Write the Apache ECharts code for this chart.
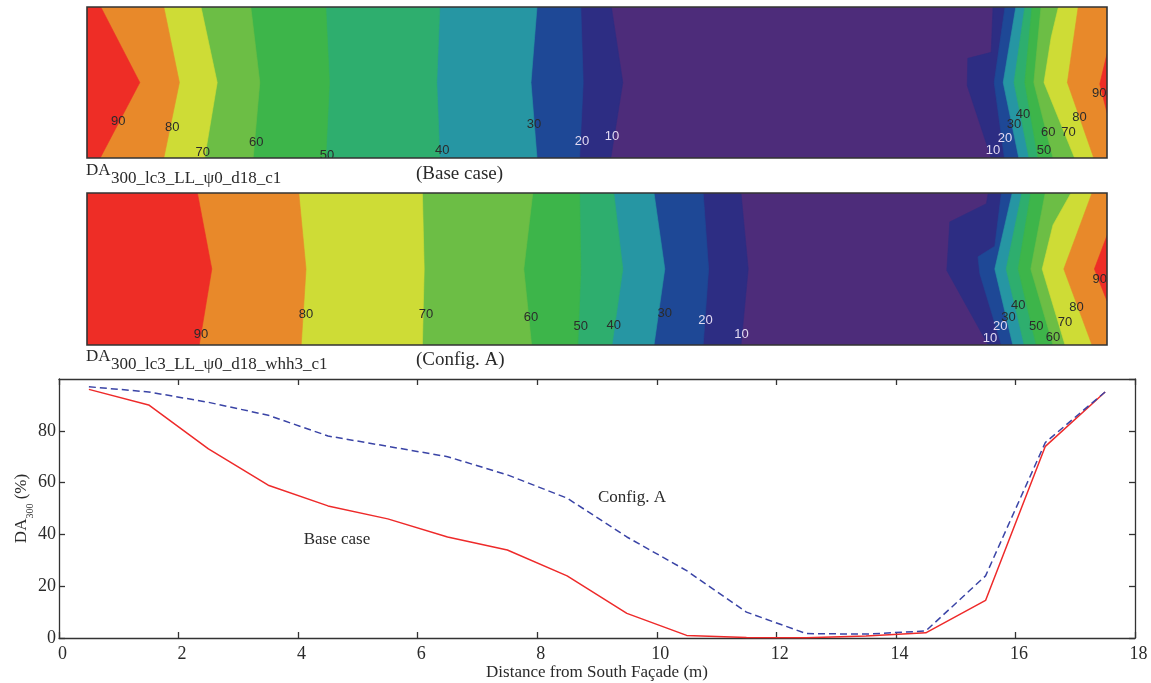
<!DOCTYPE html>
<html>
<head>
<meta charset="utf-8">
<script src="https://cdn.jsdelivr.net/npm/echarts@6/dist/echarts.min.js"></script>
<style>
  html, body { margin: 0; padding: 0; background: #fff; }
  #chart { width: 1151px; height: 683px; }
</style>
</head>
<body>
<div id="chart"></div>
<script>
// DA300 along the mid line of the room, one value per sensor (m from south facade)
var distance = [0.5, 1.5, 2.5, 3.5, 4.5, 5.5, 6.5, 7.5, 8.5, 9.5, 10.5, 11.5, 12.5, 13.5, 14.5, 15.5, 16.5, 17.5];
var baseCase = [96, 90, 73, 59, 51, 46, 39, 34, 24, 9.5, 1, 0.2, 0.1, 0.8, 2, 14.5, 74, 95];
var configA = [97, 95, 91, 86, 78, 74, 70, 63, 54, 39, 26, 10, 1.7, 1.5, 2.7, 24, 75.5, 95];

var xStep = 2;
var yStep = 20;

// contour maps: level lines as [distance (m), depth across room 0 = top .. 1 = bottom]
var levels = [10, 20, 30, 40, 50, 60, 70, 80, 90];
var bandColors = ['#4D2C7A', '#2D2D83', '#1E4896', '#2696A3', '#2EAE6E', '#3DB54A', '#6CBE45', '#CEDC36', '#E8892A', '#EE2D26'];

var baseSouth = [
  [[9.24, 0], [9.43, 0.5], [9.23, 1]],
  [[8.73, 0], [8.77, 0.5], [8.71, 1]],
  [[8.00, 0], [7.90, 0.5], [8.00, 1]],
  [[6.38, 0], [6.33, 0.5], [6.38, 1]],
  [[4.48, 0], [4.54, 0.5], [4.48, 1]],
  [[3.23, 0], [3.38, 0.5], [3.27, 1]],
  [[2.40, 0], [2.67, 0.5], [2.46, 1]],
  [[1.78, 0], [2.04, 0.5], [1.78, 1]],
  [[0.73, 0], [1.38, 0.5], [0.72, 1]]
];
var baseNorth = [
  [[15.60, 0], [15.57, 0.30], [15.18, 0.34], [15.17, 0.52], [15.57, 1]],
  [[15.80, 0], [15.62, 0.5], [15.79, 1]],
  [[15.98, 0], [15.77, 0.5], [16.03, 1]],
  [[16.13, 0], [15.95, 0.5], [16.20, 1]],
  [[16.25, 0], [16.13, 0.5], [16.35, 1]],
  [[16.40, 0], [16.28, 0.5], [16.60, 1]],
  [[16.69, 0], [16.57, 0.2], [16.45, 0.5], [16.96, 1]],
  [[17.02, 0], [16.84, 0.5], [17.28, 1]],
  [[17.5, 0.31], [17.38, 0.51], [17.5, 0.70]]
];
var configSouth = [
  [[11.40, 0], [11.52, 0.5], [11.40, 1]],
  [[10.77, 0], [10.86, 0.5], [10.77, 1]],
  [[9.95, 0], [10.13, 0.5], [9.95, 1]],
  [[9.28, 0], [9.43, 0.5], [9.25, 1]],
  [[8.71, 0], [8.73, 0.5], [8.68, 1]],
  [[7.93, 0], [7.78, 0.5], [7.91, 1]],
  [[6.09, 0], [6.12, 0.5], [6.09, 1]],
  [[4.03, 0], [4.15, 0.5], [4.07, 1]],
  [[2.34, 0], [2.58, 0.5], [2.37, 1]]
];
var configNorth = [
  [[15.52, 0], [15.49, 0.07], [14.88, 0.19], [14.83, 0.51], [15.52, 1]],
  [[15.74, 0], [15.63, 0.35], [15.35, 0.42], [15.38, 0.53], [15.74, 1]],
  [[15.92, 0], [15.63, 0.5], [15.93, 1]],
  [[16.08, 0], [15.82, 0.5], [16.12, 1]],
  [[16.23, 0], [16.02, 0.5], [16.32, 1]],
  [[16.47, 0], [16.23, 0.5], [16.60, 1]],
  [[16.90, 0], [16.60, 0.21], [16.42, 0.5], [16.80, 1]],
  [[17.25, 0], [16.78, 0.5], [17.25, 1]],
  [[17.5, 0.28], [17.29, 0.5], [17.5, 0.71]]
];

// contour labels [distance, depth, text]
var baseTags = [
  [1.02, 0.755, '90'], [1.92, 0.80, '80'], [2.43, 0.96, '70'], [3.32, 0.90, '60'], [4.50, 0.98, '50'],
  [6.42, 0.95, '40'], [7.95, 0.78, '30'], [8.75, 0.89, '20'], [9.25, 0.86, '10'],
  [15.60, 0.95, '10'], [15.80, 0.87, '20'], [15.95, 0.78, '30'], [16.10, 0.71, '40'], [16.45, 0.95, '50'],
  [16.52, 0.83, '60'], [16.86, 0.83, '70'], [17.04, 0.73, '80'], [17.37, 0.57, '90']
];
var configTags = [
  [2.40, 0.93, '90'], [4.15, 0.80, '80'], [6.15, 0.80, '70'], [7.90, 0.82, '60'], [8.73, 0.88, '50'],
  [9.28, 0.87, '40'], [10.13, 0.79, '30'], [10.81, 0.84, '20'], [11.41, 0.93, '10'],
  [15.55, 0.96, '10'], [15.72, 0.88, '20'], [15.86, 0.82, '30'], [16.02, 0.74, '40'], [16.32, 0.88, '50'],
  [16.60, 0.95, '60'], [16.80, 0.85, '70'], [16.99, 0.75, '80'], [17.38, 0.57, '90']
];

var serif = '"Liberation Serif", "Times New Roman", serif';
var ink = '#2a2a2a';

function fillSeries(idx, south, north) {
  return {
    type: 'custom', xAxisIndex: idx, yAxisIndex: idx, silent: true, clip: true, z: 2,
    data: bandColors.map(function (c, i) { return [i]; }),
    renderItem: function (params, api) {
      var k = params.dataIndex;
      var c = bandColors[k];
      if (k === 0) {
        var a = api.coord([0.5, 0]), b = api.coord([17.5, 1]);
        return { type: 'rect', z2: 0, shape: { x: a[0], y: a[1], width: b[0] - a[0], height: b[1] - a[1] }, style: { fill: c } };
      }
      var kids = [[south[k - 1], 0.5], [north[k - 1], 17.5]].map(function (pair) {
        var line = pair[0], edge = pair[1];
        var pts = line.concat([[edge, line[line.length - 1][1]], [edge, line[0][1]]]);
        return {
          type: 'polygon', z2: k,
          shape: { points: pts.map(function (p) { return api.coord(p); }) },
          style: { fill: c, stroke: c, lineWidth: 0.6 }
        };
      });
      return { type: 'group', children: kids };
    }
  };
}

function tagSeries(idx, tags) {
  return {
    type: 'custom', xAxisIndex: idx, yAxisIndex: idx, silent: true, clip: true, z: 3,
    data: tags.map(function (t) { return [t[0], t[1]]; }),
    renderItem: function (params, api) {
      var p = api.coord([api.value(0), api.value(1)]);
      var t = tags[params.dataIndex][2];
      return {
        type: 'text', x: p[0], y: p[1],
        style: {
          text: t, fill: (t === '10' || t === '20') ? '#E2DAF2' : '#2b2b2b',
          font: '13px "Liberation Sans", Arial, sans-serif', align: 'center', verticalAlign: 'middle'
        }
      };
    }
  };
}

function frameSeries(idx) {
  return {
    type: 'custom', xAxisIndex: idx, yAxisIndex: idx, silent: true, clip: false, z: 4,
    data: [[0]],
    renderItem: function (params, api) {
      var a = api.coord([0.5, 0]), b = api.coord([17.5, 1]);
      return { type: 'rect', shape: { x: a[0], y: a[1], width: b[0] - a[0], height: b[1] - a[1] }, style: { fill: null, stroke: '#333', lineWidth: 1.6 } };
    }
  };
}

function mapX(idx) {
  return { type: 'value', gridIndex: idx, min: 0.5, max: 17.5, show: false };
}
function mapY(idx) {
  return { type: 'value', gridIndex: idx, min: 0, max: 1, inverse: true, show: false };
}

function title(y, sub, note) {
  return [
    { type: 'text', x: 86, y: y, silent: true, style: { text: 'DA', font: '17px ' + serif, fill: ink, verticalAlign: 'middle' } },
    { type: 'text', x: 111, y: y + 8, silent: true, style: { text: sub, font: '17px ' + serif, fill: ink, verticalAlign: 'middle' } },
    { type: 'text', x: 416, y: y + 3, silent: true, style: { text: note, font: '19px ' + serif, fill: ink, verticalAlign: 'middle' } }
  ];
}

var axisLine = { show: true, onZero: false, lineStyle: { color: '#333', width: 1.3 } };
var tick = { show: true, inside: true, length: 6, lineStyle: { color: '#333', width: 1.3 } };

var chart = echarts.init(document.getElementById('chart'));
chart.setOption({
  animation: false,
  backgroundColor: '#fff',
  grid: [
    { left: 87, top: 7, width: 1020, height: 151 },
    { left: 87, top: 193, width: 1020, height: 152 },
    { left: 59, top: 379, width: 1076, height: 259 }
  ],
  xAxis: [
    mapX(0), mapX(1),
    {
      type: 'value', gridIndex: 2, min: 0, max: 18, interval: xStep, position: 'bottom',
      axisLine: axisLine, axisTick: tick, splitLine: { show: false },
      axisLabel: { fontFamily: serif, fontSize: 18, color: ink, margin: 7, padding: [0, 0, 0, 7] },
      name: 'Distance from South Façade (m)', nameLocation: 'middle', nameGap: 26, nameMoveOverlap: false,
      nameTextStyle: { fontFamily: serif, fontSize: 17, color: ink }
    },
    {
      type: 'value', gridIndex: 2, min: 0, max: 18, interval: xStep, position: 'top',
      axisLine: axisLine, axisTick: tick, splitLine: { show: false }, axisLabel: { show: false }
    }
  ],
  yAxis: [
    mapY(0), mapY(1),
    {
      type: 'value', gridIndex: 2, min: 0, max: 100, interval: yStep, position: 'left',
      axisLine: axisLine, axisTick: tick, splitLine: { show: false },
      axisLabel: { fontFamily: serif, fontSize: 18, color: ink, margin: 3, padding: [7, 0, 0, 0], showMaxLabel: false },
      name: '{a|DA}{s|300}{a| (%)}', nameLocation: 'middle', nameGap: 24, nameMoveOverlap: false,
      nameTextStyle: {
        rich: {
          a: { fontFamily: serif, fontSize: 17, color: ink, lineHeight: 26 },
          s: { fontFamily: serif, fontSize: 10, color: ink, verticalAlign: 'bottom' }
        }
      }
    },
    {
      type: 'value', gridIndex: 2, min: 0, max: 100, interval: yStep, position: 'right',
      axisLine: axisLine, axisTick: tick, splitLine: { show: false }, axisLabel: { show: false }
    }
  ],
  graphic: title(171, '300_lc3_LL_ψ0_d18_c1', '(Base case)')
    .concat(title(357, '300_lc3_LL_ψ0_d18_whh3_c1', '(Config. A)'))
    .concat([
      { type: 'text', x: 337, y: 540, silent: true, style: { text: 'Base case', font: '17px ' + serif, fill: ink, align: 'center', verticalAlign: 'middle' } },
      { type: 'text', x: 632, y: 498, silent: true, style: { text: 'Config. A', font: '17px ' + serif, fill: ink, align: 'center', verticalAlign: 'middle' } }
    ]),
  series: [
    fillSeries(0, baseSouth, baseNorth), tagSeries(0, baseTags), frameSeries(0),
    fillSeries(1, configSouth, configNorth), tagSeries(1, configTags), frameSeries(1),
    {
      name: 'Base case', type: 'line', xAxisIndex: 2, yAxisIndex: 2, showSymbol: false, symbol: 'none',
      data: distance.map(function (d, i) { return [d, baseCase[i]]; }),
      lineStyle: { color: '#EE2A2A', width: 1.5 }, z: 3
    },
    {
      name: 'Config. A', type: 'line', xAxisIndex: 2, yAxisIndex: 2, showSymbol: false, symbol: 'none',
      data: distance.map(function (d, i) { return [d, configA[i]]; }),
      lineStyle: { color: '#3A44A6', width: 1.5, type: [7, 4] }, z: 4
    }
  ]
});
</script>
</body>
</html>
